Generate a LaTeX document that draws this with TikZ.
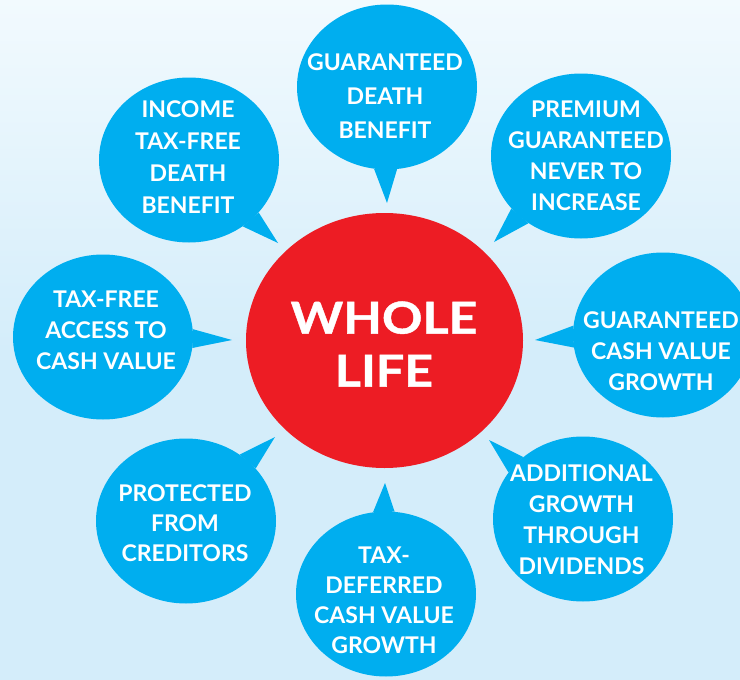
\documentclass[tikz,border=0pt]{standalone}
\usepackage{fontspec}
\setmainfont{Lato}
\newfontfamily\widelato{Lato}[FakeStretch=1.14, FakeBold=1]
\usetikzlibrary{shapes.geometric}
\definecolor{bubblue}{RGB}{0,174,239}
\definecolor{wlred}{RGB}{237,28,36}
\definecolor{bgtop}{RGB}{242,250,254}
\definecolor{bgbot}{RGB}{212,237,250}

\begin{document}
\begin{tikzpicture}[x=1pt,y=-1pt,
  bubble/.style={shape=ellipse, fill=bubblue, minimum width=180pt, minimum height=165pt, inner sep=0pt},
  tail/.style={fill=bubblue},
  word/.style={align=center, text=white, inner sep=0pt, font=\fontsize{23}{31}\selectfont\bfseries}]

\useasboundingbox (0,0) rectangle (740,680);
\clip (0,0) rectangle (740,680);
\fill[bgbot] (0,0) rectangle (740,680);
\shade[top color=bgtop, bottom color=bgbot] (0,0) rectangle (740,350);

\node[bubble] (death) at (387,87) {};
\node[bubble] (premium) at (581,156) {};
\node[bubble] (growth) at (663,335) {};
\node[bubble] (dividends) at (583,519) {};
\node[bubble] (deferred) at (386,594) {};
\node[bubble] (creditors) at (186,521) {};
\node[bubble] (access) at (103,337) {};
\node[bubble] (income) at (189,160) {};

\coordinate (deathtip) at (387,203);
\coordinate (premiumtip) at (494,242);
\coordinate (growthtip) at (535,340);
\coordinate (dividendstip) at (489,440);
\coordinate (deferredtip) at (385,483);
\coordinate (creditorstip) at (275,437);
\coordinate (accesstip) at (232,340);
\coordinate (incometip) at (278,243);

\fill[tail] (death.-99.6) -- (deathtip) -- (death.-83.7) -- cycle;
\fill[tail] (premium.-143.8) -- (premiumtip) -- (premium.-128.9) -- cycle;
\fill[tail] (growth.174.3) -- (growthtip) -- (growth.188.4) -- cycle;
\fill[tail] (dividends.134) -- (dividendstip) -- (dividends.148) -- cycle;
\fill[tail] (deferred.99.6) -- (deferredtip) -- (deferred.84) -- cycle;
\fill[tail] (creditors.51.6) -- (creditorstip) -- (creditors.37) -- cycle;
\fill[tail] (access.5.7) -- (accesstip) -- (access.-7) -- cycle;
\fill[tail] (income.-37.5) -- (incometip) -- (income.-51.5) -- cycle;

\node[shape=ellipse, fill=wlred, minimum width=277pt, minimum height=255pt, inner sep=0pt] (whole) at (384.5,340.5) {};
\node[word, font=\widelato\fontsize{44}{53}\selectfont\bfseries] (wholetext) at (384,344) {WHOLE\\LIFE};

\node[word, font=\fontsize{23}{34}\selectfont\bfseries] (deathtext) at (385,96.5) {GUARANTEED\\DEATH\\BENEFIT};
\node[word] (premiumtext) at (586,156) {PREMIUM\\GUARANTEED\\NEVER TO\\INCREASE};
\node[word] (growthtext) at (661,351.5) {GUARANTEED\\CASH VALUE\\GROWTH};
\node[word] (dividendstext) at (581.5,519.5) {ADDITIONAL\\GROWTH\\THROUGH\\DIVIDENDS};
\node[word, font=\fontsize{23}{30}\selectfont\bfseries] (deferredtext) at (384,600.5) {TAX-\\DEFERRED\\CASH VALUE\\GROWTH};
\node[word, font=\fontsize{23}{30}\selectfont\bfseries] (creditorstext) at (185,523.5) {PROTECTED\\FROM\\CREDITORS};
\node[word] (accesstext) at (106,330) {TAX-FREE\\ACCESS TO\\CASH VALUE};
\node[word, font=\fontsize{23}{32}\selectfont\bfseries] (incometext) at (188,157) {INCOME\\TAX-FREE\\DEATH\\BENEFIT};
\end{tikzpicture}
\end{document}
